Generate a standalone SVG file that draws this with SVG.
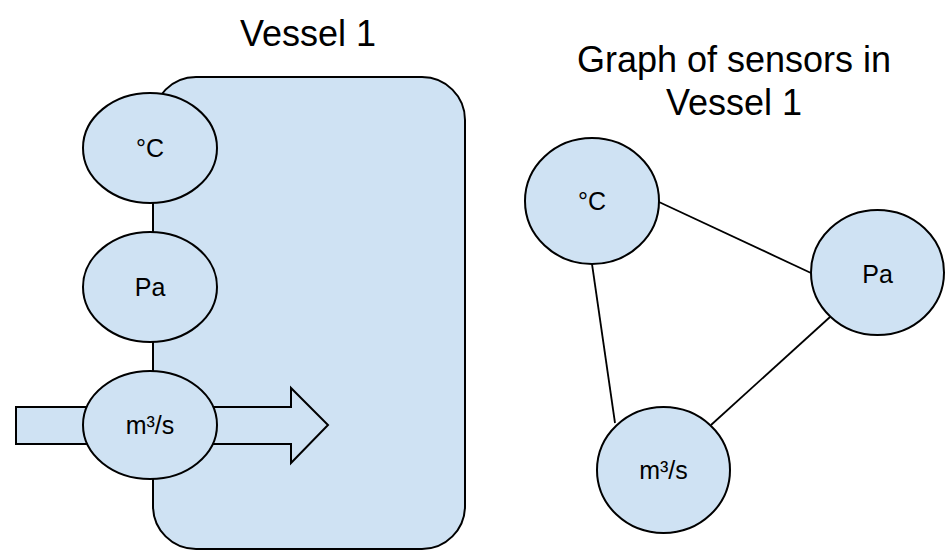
<svg xmlns="http://www.w3.org/2000/svg" width="952" height="555" viewBox="0 0 952 555">
<style>
.shape{fill:#cfe2f3;stroke:#000;stroke-width:2}
.edge{stroke:#000;stroke-width:1.8;fill:none}
.lbl{font-family:"Liberation Sans",Arial,sans-serif;font-size:25px;fill:#000;text-anchor:middle}
.title{font-family:"Liberation Sans",Arial,sans-serif;font-size:36px;fill:#000;text-anchor:middle}
</style>
<rect width="952" height="555" fill="#fff"/>
<text class="title" x="308" y="46">Vessel 1</text>
<g id="vessel"><rect class="shape" x="153" y="77" width="312" height="472" rx="43" ry="43"/></g>
<g id="flow-arrow"><polygon class="shape" points="16,407 291,407 291,388 328,425 291,463 291,444 16,444"/></g>
<g id="v-temp"><ellipse class="shape" cx="150" cy="148" rx="67" ry="55"/><text class="lbl" x="150" y="157">°C</text></g>
<g id="v-pres"><ellipse class="shape" cx="150" cy="287" rx="67" ry="55"/><text class="lbl" x="150" y="296">Pa</text></g>
<g id="v-flow"><ellipse class="shape" cx="150" cy="425" rx="67" ry="54"/><text class="lbl" x="150" y="434">m³/s</text></g>
<text class="title" x="734" y="72">Graph of sensors in</text>
<text class="title" x="734" y="115">Vessel 1</text>
<g id="connectors">
<line class="edge" x1="659" y1="202" x2="811" y2="273"/>
<line class="edge" x1="592" y1="264" x2="615" y2="423"/>
<line class="edge" x1="830" y1="317" x2="711" y2="425"/>
</g>
<g id="g-temp"><ellipse class="shape" cx="592" cy="201" rx="67" ry="63"/><text class="lbl" x="592" y="210">°C</text></g>
<g id="g-pres"><ellipse class="shape" cx="877.5" cy="272.5" rx="66.5" ry="62.5"/><text class="lbl" x="877.5" y="283">Pa</text></g>
<g id="g-flow"><ellipse class="shape" cx="663.5" cy="470" rx="66.5" ry="63"/><text class="lbl" x="663.5" y="479">m³/s</text></g>
</svg>
